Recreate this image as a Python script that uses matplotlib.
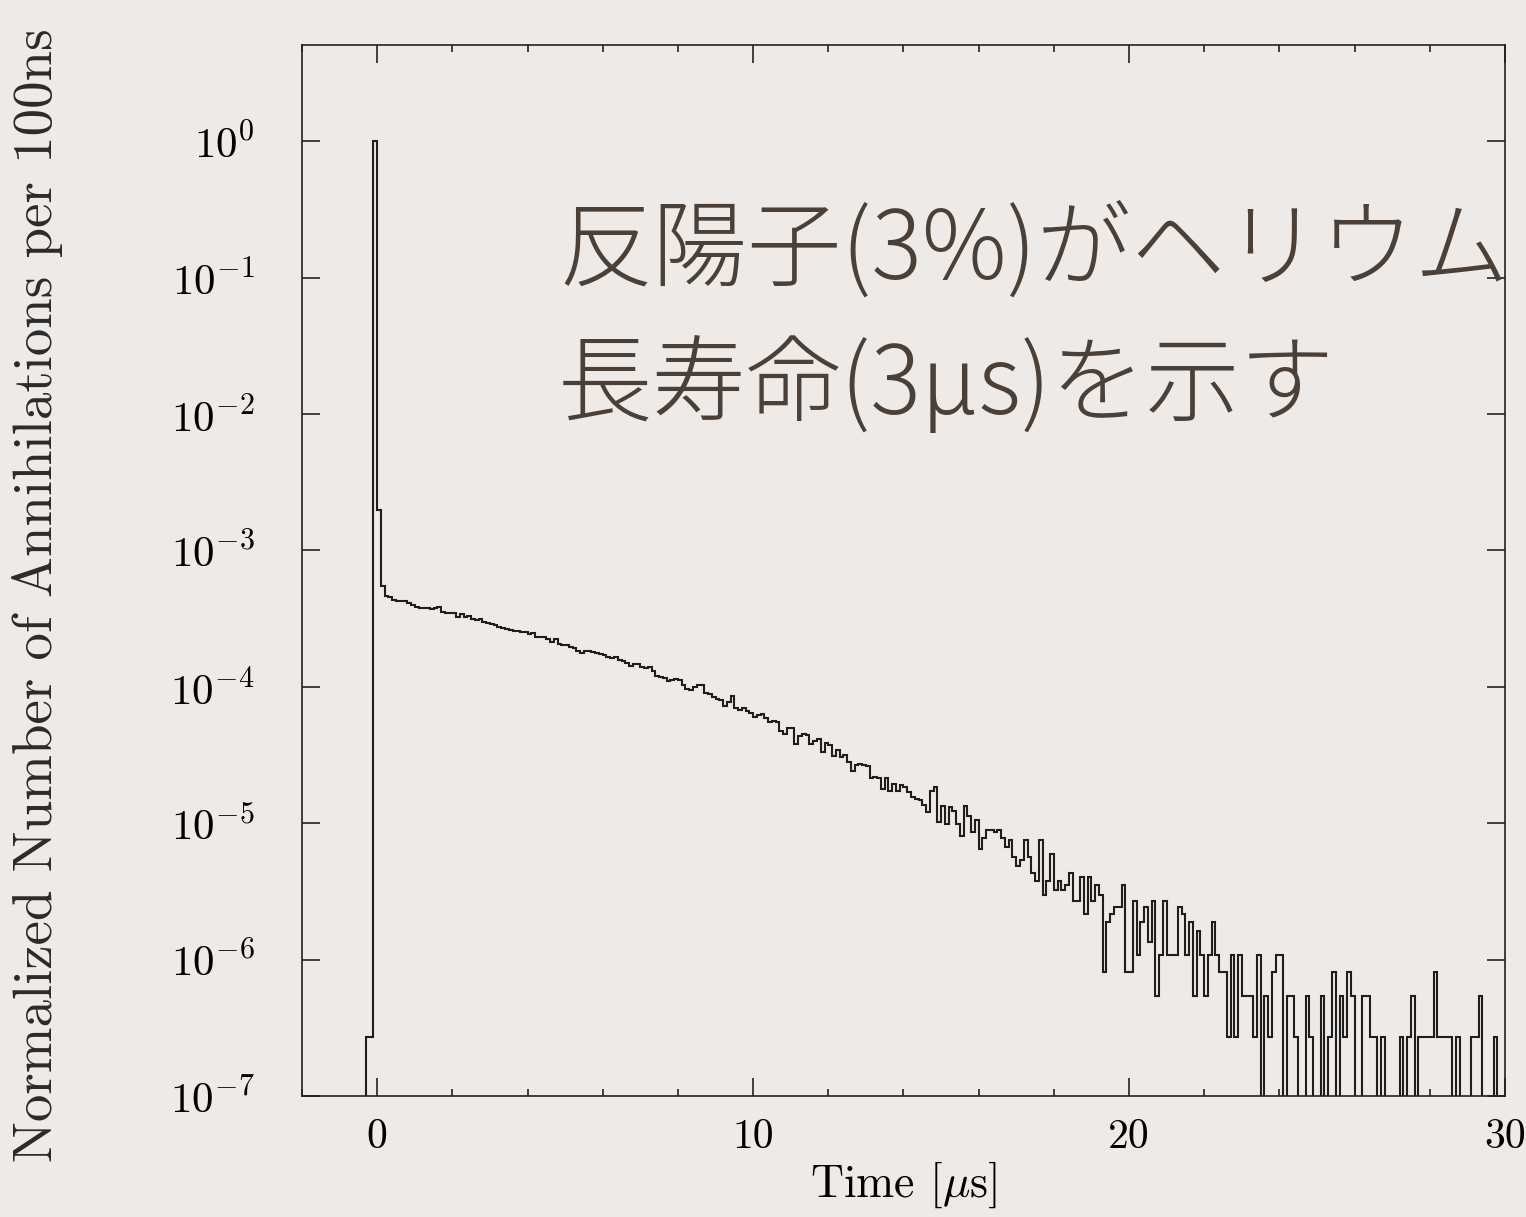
#!/usr/bin/env python3
import numpy as np
import matplotlib
matplotlib.use("Agg")
import matplotlib.pyplot as plt
from matplotlib.ticker import MultipleLocator, FixedLocator, FuncFormatter, NullLocator

# histogram of annihilation times, 100 ns bins, normalised to the peak bin
BIN_WIDTH = 0.1      # us
FIRST_EDGE = -0.3    # us

pre_counts = [1, 1]          # bins -0.3 .. -0.1
peak_count = 3720000         # bin -0.1 .. 0 (= 1.0 after normalisation)

# bins 0.0 .. 7.8 us
early_counts = [7400, 2053, 1734, 1686, 1611, 1576, 1593, 1576, 1532, 1490,
                1440, 1409, 1409, 1400, 1384, 1409, 1423, 1309, 1288, 1288,
                1300, 1216, 1265, 1202, 1237, 1169, 1150, 1169, 1105, 1094,
                1074, 1057, 1028, 1009, 993, 971, 960, 949, 938, 944,
                908, 929, 867, 857, 863, 834, 792, 830, 766, 750,
                759, 733, 713, 684, 658, 677, 684, 670, 658, 647,
                632, 618, 605, 618, 585, 572, 559, 531, 547, 543,
                516, 508, 522, 489, 447, 437, 432, 412]

# bins 7.8 .. 14.7 us
mid_counts = [417, 424, 417, 385, 360, 352, 368, 385, 381, 337,
              329, 311, 303, 299, 270, 288, 320, 260, 251, 260,
              246, 241, 225, 230, 235, 219, 204, 210, 207, 177,
              167, 187, 187, 141, 163, 167, 166, 141, 150, 153,
              123, 145, 140, 116, 129, 113, 118, 105, 90, 99,
              101, 100, 98, 80, 81, 80, 66, 80, 64, 72,
              64, 71, 68, 63, 58, 56, 55, 51, 45]

# bins 14.7 .. 30.0 us
tail_counts = [64, 68, 38, 50, 37, 49, 46, 37, 30, 50,
               42, 32, 39, 24, 29, 33, 33, 32, 33, 29,
               25, 28, 21, 18, 20, 28, 21, 16, 14, 28,
               11, 14, 22, 12, 14, 12, 13, 16, 10, 10,
               15, 8, 15, 10, 13, 11, 3, 7, 8, 9,
               9, 13, 3, 3, 10, 4, 7, 9, 5, 10,
               2, 4, 10, 4, 4, 4, 9, 8, 4, 7,
               2, 6, 4, 2, 4, 7, 4, 3, 3, 1,
               4, 1, 4, 2, 2, 2, 1, 4, 0, 2,
               1, 3, 4, 4, 0, 2, 2, 1, 0, 0,
               2, 1, 0, 0, 2, 0, 1, 3, 0, 2,
               1, 3, 2, 0, 0, 2, 2, 1, 1, 0,
               1, 0, 0, 0, 0, 1, 0, 1, 2, 0,
               1, 1, 1, 1, 3, 1, 1, 1, 1, 0,
               1, 0, 0, 0, 1, 1, 2, 0, 0, 0,
               1, 0, 0]

x_major = [0, 10, 20, 30]
xlabel = r"Time [$\mu$s]"
ylabel = "Normalized Number of Annihilations per 100ns"
note_lines = ["反陽子(3%)がヘリウム", "長寿命(3μs)を示す"]

plt.rcParams["font.family"] = ["cmr10", "DejaVu Serif"]
plt.rcParams["mathtext.fontset"] = "cm"
plt.rcParams["axes.unicode_minus"] = False

counts = np.array(pre_counts + [peak_count] + early_counts + mid_counts + tail_counts, dtype=float)
values = counts / peak_count
edges = FIRST_EDGE + BIN_WIDTH * np.arange(len(values) + 1)

bg = "#edeae7"
fig = plt.figure(figsize=(15.26, 12.17), dpi=100, facecolor=bg)
ax = fig.add_axes([0.1979, 0.0994, 0.7883, 0.8639])
ax.set_facecolor("none")

ax.stairs(values, edges, color="#1e1e1e", lw=1.5)

ax.set_yscale("log")
ax.set_xlim(-2, 30)
ax.set_ylim(1e-7, 5.1)

ax.xaxis.set_major_locator(FixedLocator(x_major))
ax.xaxis.set_minor_locator(MultipleLocator(2))
ax.yaxis.set_major_locator(FixedLocator([10.0 ** k for k in range(-7, 1)]))
ax.yaxis.set_minor_locator(NullLocator())
ax.yaxis.set_major_formatter(FuncFormatter(lambda v, p: r"$10^{%d}$" % round(np.log10(v))))

ax.tick_params(which="both", direction="in", top=True, right=True, width=1.2, color="#222222")
ax.tick_params(which="major", length=13)
ax.tick_params(which="minor", length=5)
ax.tick_params(axis="x", which="major", labelsize=30, pad=16)
ax.tick_params(axis="y", which="major", labelsize=31, pad=34)
for s in ax.spines.values():
    s.set_linewidth(1.2)
    s.set_color("#222222")

ax.set_xlabel(xlabel, fontsize=33, labelpad=3)
fig.text(38 / 1526, 1 - 595 / 1217, ylabel, rotation=90, ha="center", va="center",
         fontsize=39.5, color="#2a2a2a")

jp = ["Noto Sans CJK JP", "DejaVu Sans"]
fig.text(558 / 1526, 1 - 279 / 1217, note_lines[0], fontsize=68, family=jp,
         color="#4a4038", va="baseline", fontweight="light")
fig.text(558 / 1526, 1 - 414 / 1217, note_lines[1], fontsize=68, family=jp,
         color="#4a4038", va="baseline", fontweight="light")

fig.savefig("out.png", dpi=100, facecolor=bg)
